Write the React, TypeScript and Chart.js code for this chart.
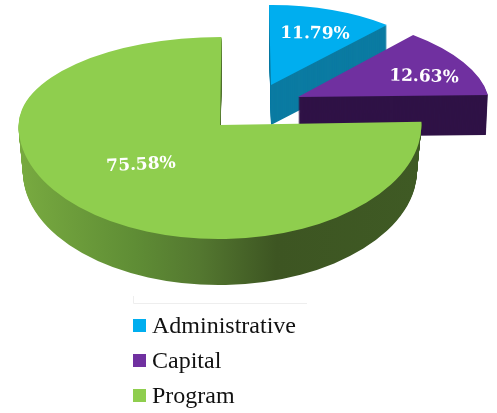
import React, { useEffect, useRef } from "react";
import { Chart, registerables } from "chart.js";

Chart.register(...registerables);

const categories = ["Administrative", "Capital", "Program"];
const shares = [11.79, 12.63, 75.58];
const topColors = ["#00aeef", "#7030a0", "#8fce4e"];
const sideColors = ["#0b7ba2", "#2f1246", "#5f8d35"];

// Affine pose of each exploded slice on the page (unit-circle axes -> pixels)
const poses = [
  { x: 271, y: 85, a: 174, b: -1.4, c: 2, d: 80, depth: 40, shrink: 0 },
  { x: 298, y: 97, a: 190.8, b: 0.97, c: 18.5, d: 84.9, depth: 40, shrink: 0.01 },
  { x: 220, y: 125, a: 201.5, b: 0, c: -1.5, d: 114, dTop: 88, depth: 46, shrink: 0.022 },
];
const labelPlaces = [
  { x: 315, y: 34, rot: 0.01 },
  { x: 424, y: 77, rot: 0.03 },
  { x: 141, y: 165, rot: -0.05 },
];
const legendPlace = { x: 133, y: 325.5, step: 35, box: 13, textX: 152 };

function drawSlice(ctx: CanvasRenderingContext2D, arc: any, i: number, chartW: number, chartH: number) {
  const pose: any = poses[i];
  const R = arc.outerRadius;
  for (let k = pose.depth; k >= 0; k--) {
    let fill: any = k === 0 ? topColors[i] : sideColors[i];
    if (k > 0 && i === 2) {
      const g = ctx.createLinearGradient(arc.x - R, 0, arc.x + R, 0);
      g.addColorStop(0, "#78aa40");
      g.addColorStop(0.29, "#5f8d35");
      g.addColorStop(0.45, "#547830");
      g.addColorStop(0.645, "#3d5522");
      g.addColorStop(1, "#3f5a24");
      fill = g;
    }
    const ghost = Object.create(arc);
    ghost.options = { ...arc.options, backgroundColor: fill };
    const s = 1 - (pose.shrink * k) / pose.depth;
    const parts = pose.dTop
      ? [
          { d: pose.dTop, from: 0, to: pose.y + k },
          { d: pose.d, from: pose.y + k, to: chartH },
        ]
      : [{ d: pose.d, from: 0, to: chartH }];
    for (const part of parts) {
      ctx.save();
      ctx.beginPath();
      ctx.rect(0, part.from, chartW, part.to - part.from);
      ctx.clip();
      ctx.transform(
        (pose.a * s) / R,
        pose.b / R,
        pose.c / R,
        part.d / R,
        pose.x,
        pose.y + k
      );
      ctx.translate(-arc.x, -arc.y);
      ghost.draw(ctx);
      ctx.restore();
    }
  }
}

const slicePlugin = {
  id: "slices3d",
  beforeDatasetDraw(chart: any) {
    const ctx = chart.ctx as CanvasRenderingContext2D;
    const arcs = chart.getDatasetMeta(0).data;
    arcs.forEach((arc: any, i: number) => drawSlice(ctx, arc, i, chart.width, chart.height));
    return false;
  },
  afterDatasetsDraw(chart: any) {
    const ctx = chart.ctx as CanvasRenderingContext2D;
    const values = chart.data.datasets[0].data as number[];
    ctx.save();
    ctx.fillStyle = "#ffffff";
    ctx.textAlign = "center";
    ctx.textBaseline = "middle";
    ctx.font = 'bold 17px "DejaVu Serif"';
    values.forEach((v, i) => {
      const p = labelPlaces[i];
      ctx.save();
      ctx.translate(p.x, p.y);
      ctx.rotate(p.rot);
      ctx.fillText(v.toFixed(2) + "%", 0, 0);
      ctx.restore();
    });
    ctx.restore();

    // faint frame line above the legend
    ctx.save();
    ctx.strokeStyle = "#eeeeee";
    ctx.lineWidth = 1;
    ctx.beginPath();
    ctx.moveTo(133.5, 296);
    ctx.lineTo(133.5, 303.5);
    ctx.lineTo(307, 303.5);
    ctx.stroke();
    ctx.restore();

    // legend
    ctx.save();
    ctx.font = '24px "Liberation Serif"';
    ctx.textBaseline = "middle";
    (chart.data.labels as string[]).forEach((label, i) => {
      const y = legendPlace.y + i * legendPlace.step;
      ctx.fillStyle = topColors[i];
      ctx.fillRect(legendPlace.x, y - legendPlace.box / 2, legendPlace.box, legendPlace.box);
      ctx.fillStyle = "#111111";
      ctx.fillText(label, legendPlace.textX, y + 1);
    });
    ctx.restore();
  },
};

export default function App() {
  const ref = useRef<HTMLCanvasElement>(null);
  useEffect(() => {
    const chart = new Chart(ref.current as HTMLCanvasElement, {
      type: "pie",
      data: {
        labels: categories,
        datasets: [{ data: shares, backgroundColor: topColors, borderWidth: 0 }],
      },
      options: {
        animation: false,
        responsive: false,
        plugins: { legend: { display: false }, tooltip: { enabled: false } },
      },
      plugins: [slicePlugin],
    } as any);
    return () => chart.destroy();
  }, []);
  return (
    <canvas
      ref={ref}
      width={497}
      height={413}
      style={{ position: "absolute", left: 0, top: 0, width: 497, height: 413, background: "#fff" }}
    />
  );
}
